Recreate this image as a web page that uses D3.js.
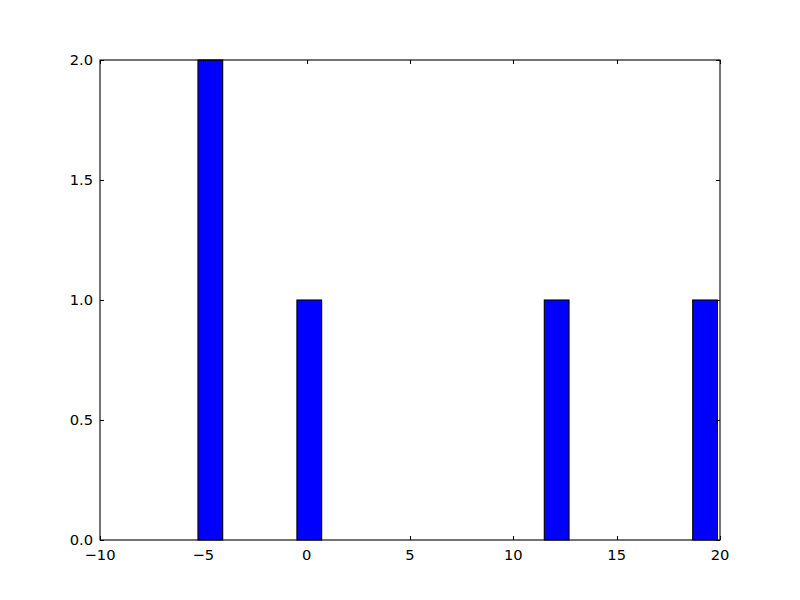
<!DOCTYPE html>
<html><head><meta charset="utf-8">
<script src="https://cdn.jsdelivr.net/npm/d3@7"></script>
<style>body{margin:0;background:#fff}svg{display:block}text{font-family:"DejaVu Sans",sans-serif;font-size:14.7px;fill:#000}</style>
</head><body><svg id="c" width="800" height="600"></svg>
<script>
// Histogram bins: start edge, bin width, counts per bin
const binStart = -5.26;
const binWidth = 1.197;
const counts = [2,0,0,0,1,0,0,0,0,0,0,0,0,0,1,0,0,0,0,0,1];
const xTicks = [-10,-5,0,5,10,15,20];
const yTicks = [0,0.5,1,1.5,2];
const xDomain = [-10,20];
const yDomain = [0,2];

const L=100,R=720,T=60,B=540;
const svg=d3.select("#c");
svg.append("rect").attr("width",800).attr("height",600).attr("fill","#fff");
const x=d3.scaleLinear().domain(xDomain).range([L,R]);
const y=d3.scaleLinear().domain(yDomain).range([B,T]);

const bins=counts.map((c,i)=>({x0:binStart+i*binWidth,x1:binStart+(i+1)*binWidth,c}));
svg.append("g").selectAll("rect").data(bins.filter(d=>d.c>0)).join("rect")
  .attr("x",d=>x(d.x0)).attr("width",d=>x(d.x1)-x(d.x0))
  .attr("y",d=>y(d.c)).attr("height",d=>y(0)-y(d.c))
  .attr("fill","#0000ff").attr("stroke","#000").attr("stroke-width",1.1);

const fmtY=d3.format(".1f");
const fmtX=d=>d<0?"\u2212"+Math.abs(d):String(d);
const ax=svg.append("g");
xTicks.forEach(t=>{
  const px=Math.round(x(t))+0.5;
  ax.append("line").attr("x1",px).attr("x2",px).attr("y1",B).attr("y2",B-4).attr("stroke","#000");
  ax.append("line").attr("x1",px).attr("x2",px).attr("y1",T).attr("y2",T+4).attr("stroke","#000");
  ax.append("text").attr("x",x(t)).attr("y",B+20).attr("text-anchor","middle").text(fmtX(t));
});
yTicks.forEach(t=>{
  const py=Math.round(y(t))+0.5;
  ax.append("line").attr("x1",L).attr("x2",L+4).attr("y1",py).attr("y2",py).attr("stroke","#000");
  ax.append("line").attr("x1",R).attr("x2",R-4).attr("y1",py).attr("y2",py).attr("stroke","#000");
  ax.append("text").attr("x",L-7).attr("y",y(t)).attr("dy","0.36em").attr("text-anchor","end").text(fmtY(t));
});
svg.append("rect").attr("x",L).attr("y",T).attr("width",R-L).attr("height",B-T)
  .attr("fill","none").attr("stroke","#000").attr("stroke-width",1.1);
</script></body></html>
